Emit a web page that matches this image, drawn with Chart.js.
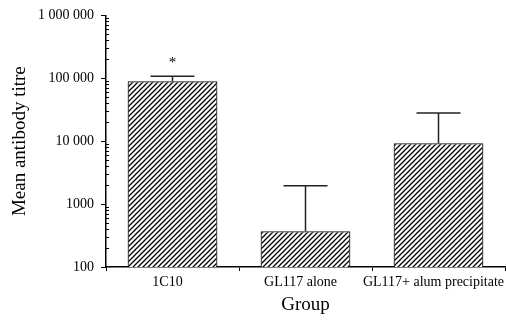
<!DOCTYPE html>
<html>
<head>
<meta charset="utf-8">
<script src="https://cdn.jsdelivr.net/npm/chart.js@4"></script>
<style>
  html, body { margin: 0; padding: 0; background: #fff; }
  #wrap { width: 506px; height: 320px; }
</style>
</head>
<body>
<div id="wrap"><canvas id="titreChart" width="506" height="320"></canvas></div>
<script>
const groups = ['1C10', 'GL117 alone', 'GL117+ alum precipitate'];
const meanTitre = [90000, 370, 9300];
const errorTop = [108000, 1950, 28000];
const significance = ['*', '', ''];
const yTicks = [100, 1000, 10000, 100000, 1000000];
const yTickLabels = ['100', '1000', '10 000', '100 000', '1 000 000'];

const serif = "'Liberation Serif', 'Times New Roman', serif";

function hatchPattern() {
    const c = document.createElement('canvas');
    c.width = 5; c.height = 5;
    const g = c.getContext('2d');
    g.fillStyle = '#fff';
    g.fillRect(0, 0, 5, 5);
    g.strokeStyle = '#000';
    g.lineWidth = 1.3;
    g.beginPath();
    g.moveTo(-1, 6); g.lineTo(6, -1);
    g.moveTo(-1, 1); g.lineTo(1, -1);
    g.moveTo(4, 6); g.lineTo(6, 4);
    g.stroke();
    return g.createPattern(c, 'repeat');
}

// error bars, asterisk and minor log ticks
const extrasPlugin = {
    id: 'extras',
    afterDatasetsDraw(chart) {
        const ctx = chart.ctx;
        const y = chart.scales.y;
        const meta = chart.getDatasetMeta(0);
        ctx.save();
        ctx.strokeStyle = '#222';
        ctx.lineWidth = 1.5;
        meta.data.forEach((bar, i) => {
            const top = y.getPixelForValue(errorTop[i]);
            const base = y.getPixelForValue(meanTitre[i]);
            ctx.beginPath();
            ctx.moveTo(bar.x, base);
            ctx.lineTo(bar.x, top);
            ctx.moveTo(bar.x - 22, top);
            ctx.lineTo(bar.x + 22, top);
            ctx.stroke();
            if (significance[i]) {
                ctx.fillStyle = '#000';
                ctx.font = '15px ' + serif;
                ctx.textAlign = 'center';
                ctx.textBaseline = 'middle';
                ctx.fillText(significance[i], bar.x, top - 13);
            }
        });
        // minor ticks
        ctx.strokeStyle = '#000';
        ctx.lineWidth = 1;
        ctx.beginPath();
        for (let d = 0; d < yTicks.length - 1; d++) {
            for (let m = 2; m <= 9; m++) {
                const py = Math.round(y.getPixelForValue(yTicks[d] * m)) + 0.5;
                ctx.moveTo(y.right, py);
                ctx.lineTo(y.right + 3, py);
            }
        }
        ctx.stroke();
        ctx.restore();
    }
};

new Chart(document.getElementById('titreChart'), {
    type: 'bar',
    data: {
        labels: groups,
        datasets: [{
            data: meanTitre,
            backgroundColor: hatchPattern(),
            borderColor: '#111',
            borderWidth: 1.2,
            barPercentage: 0.675,
            categoryPercentage: 1
        }]
    },
    options: {
        responsive: false,
        animation: false,
        layout: { padding: { top: 14, right: 1, left: 0, bottom: 0 } },
        plugins: { legend: { display: false }, tooltip: { enabled: false } },
        scales: {
            x: {
                grid: { offset: true, drawOnChartArea: false, tickLength: 4, color: '#000', lineWidth: 1 },
                border: { display: true, color: '#000', width: 1.5 },
                ticks: { color: '#000', font: { family: serif, size: 14 }, padding: 3, maxRotation: 0, autoSkip: false, labelOffset: -5 },
                title: { display: true, text: 'Group', color: '#000', font: { family: serif, size: 19 }, padding: { top: 0 } },
                afterFit: s => { s.height = 53; s.paddingLeft = 0; s.paddingRight = 0; }
            },
            y: {
                type: 'logarithmic',
                min: 100,
                max: 1000000,
                afterBuildTicks: s => { s.ticks = yTicks.map(v => ({ value: v, major: true })); },
                grid: { drawOnChartArea: false, tickLength: 5, color: '#000', lineWidth: 1 },
                border: { display: true, color: '#000', width: 1.5 },
                ticks: {
                    color: '#000',
                    font: { family: serif, size: 14 },
                    padding: 7,
                    autoSkip: false,
                    callback: (v) => yTickLabels[yTicks.indexOf(v)]
                },
                title: { display: true, text: 'Mean antibody titre', color: '#000', font: { family: serif, size: 19 }, padding: { top: 9, bottom: 0 } },
                afterFit: s => { s.width = 106; }
            }
        }
    },
    plugins: [extrasPlugin]
});
</script>
</body>
</html>
